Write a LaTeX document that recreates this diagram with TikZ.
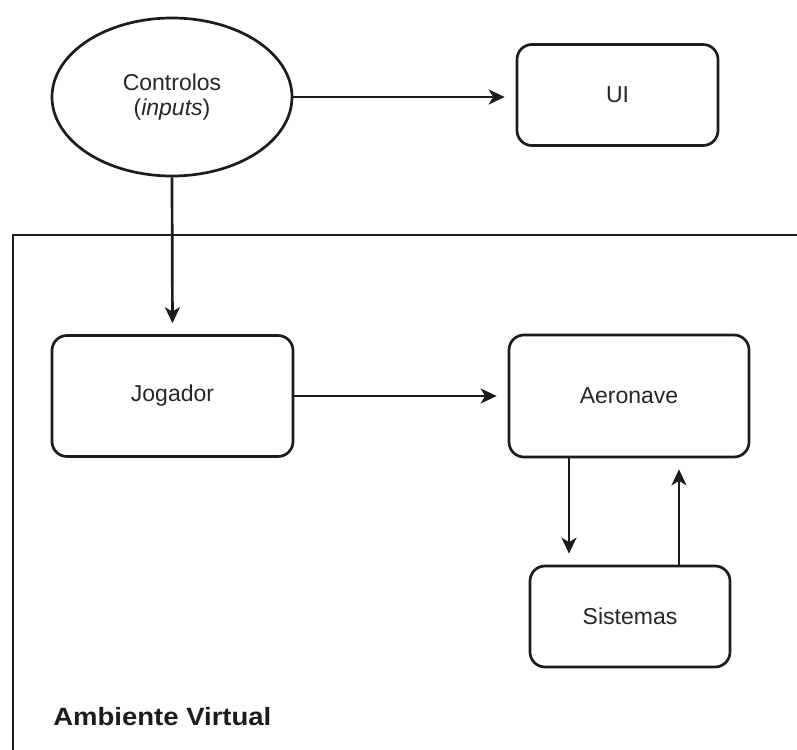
\documentclass[tikz,border=0pt]{standalone}
\usepackage{fontspec}
\setmainfont{Liberation Sans}
\newfontfamily\widebold[FakeStretch=1.1]{Liberation Sans Bold}
\usetikzlibrary{arrows.meta,shapes.geometric,calc}
\definecolor{ink}{HTML}{1c1c1c}
\definecolor{txt}{HTML}{262626}
\begin{document}
\begin{tikzpicture}[x=1pt,y=-1pt,
  line width=2.7pt,
  every node/.style={text=txt},
  block/.style={draw=ink, rounded corners=15pt, minimum width=#1, minimum height=101pt, inner sep=0pt, font=\fontsize{23}{26}\selectfont},
  block/.default=240pt,
  flow/.style={draw=ink, -{Stealth[length=16pt,width=15pt,inset=4.5pt]}, shorten >=11pt}]
  \clip (0,0) rectangle (797,749);

  % frame of the virtual environment
  \draw[ink] (810,235) -- (13,235) -- (13,760);
  \node[anchor=base west, inner sep=0pt, font=\fontsize{25}{29}\widebold, text=ink] (amb) at (52,725) {Ambiente Virtual};

  % nodes
  \node[draw=ink, ellipse, minimum width=240pt, minimum height=158pt, inner sep=0pt,
        font=\fontsize{23}{25}\selectfont, align=center] (ctl) at (172,97) {Controlos\\(\textit{inputs})};
  \node[block=201pt] (ui) at (617.5,95) {UI};
  \node[block=241pt, minimum height=121pt] (jog) at (172.5,396) {Jogador};
  \node[block=240pt, minimum height=122pt] (aer) at (629,396) {Aeronave};
  \node[block=200pt] (sis) at (630,616.5) {Sistemas};

  \coordinate (dn) at (569,0);
  \coordinate (up) at (679,0);

  % connectors
  \draw[flow] (ctl.east) -- (ctl.east -| ui.west);
  \draw[flow] (ctl.south) -- (jog.north);
  \draw[flow] (jog.east) -- (aer.west);
  \draw[flow] (aer.south -| dn) -- (sis.north -| dn);
  \draw[flow] (sis.north -| up) -- (aer.south -| up);
\end{tikzpicture}
\end{document}
